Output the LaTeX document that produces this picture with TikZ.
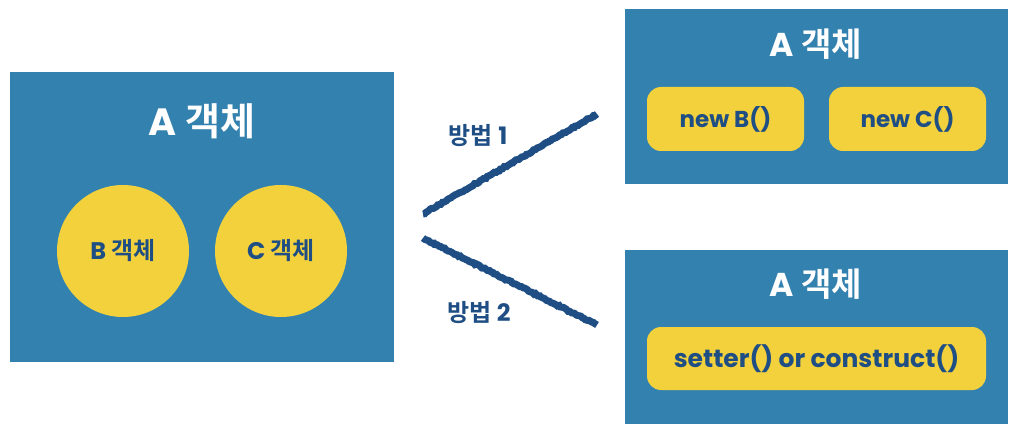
\documentclass[tikz,border=0pt]{standalone}
\usepackage{fontspec}
\setmainfont{Noto Sans CJK KR Bold}
\newfontfamily\lat{Poppins}
\usepackage{tikz}
\usetikzlibrary{positioning, decorations.pathmorphing}
\definecolor{objblue}{RGB}{51,129,175}
\definecolor{objyellow}{RGB}{242,209,60}
\definecolor{inkblue}{RGB}{30,78,132}
\newcommand{\ltn}[1]{{\lat\bfseries #1}}

\tikzset{
  obj/.style={fill=objblue, inner sep=0pt},
  objtitle/.style={text=white, font=\fontsize{38}{42}\selectfont},
  member/.style={circle, fill=objyellow, minimum size=132pt, text=inkblue, font=\fontsize{24}{28}\selectfont},
  call/.style={rounded corners=14pt, fill=objyellow, minimum height=64pt, text=inkblue, font=\fontsize{23}{26}\selectfont},
  way/.style={text=inkblue, font=\fontsize{24}{28}\selectfont},
  chalk/.style={draw=inkblue, line width=7pt, decorate, decoration={random steps, segment length=2pt, amplitude=0.7pt}}
}

\begin{document}
\begin{tikzpicture}[x=1pt, y=-1pt]
\useasboundingbox (0,0) rectangle (1016,438);

\node[obj, minimum width=384pt, minimum height=290pt] (a) at (202,217) {};
\node[objtitle] (atitle) at (202,121) {\ltn{A} 객체};
\node[member] (b) at (123,251) {\ltn{B} 객체};
\node[member] (c) at (281,251) {\ltn{C} 객체};

\node[obj, minimum width=383pt, minimum height=175pt] (a1) at (816.5,96.5) {};
\node[objtitle, font=\fontsize{33}{36}\selectfont] (a1title) at (816,44) {\ltn{A} 객체};
\node[call, minimum width=157pt] (newb) at (725.5,119) {\ltn{new B()}};
\node[call, minimum width=157pt] (newc) at (907.5,119) {\ltn{new C()}};

\node[obj, minimum width=383pt, minimum height=174pt] (a2) at (816.5,337) {};
\node[objtitle, font=\fontsize{33}{36}\selectfont] (a2title) at (816,284) {\ltn{A} 객체};
\node[call, minimum width=339pt, minimum height=63pt, font=\fontsize{25}{28}\selectfont] (inject) at (816.5,358.5) {\ltn{setter() or construct()}};

\coordinate (w1s) at (423,214);
\coordinate (w1e) at (597,114);
\coordinate (w2s) at (423,238);
\coordinate (w2e) at (597,325);
\draw[chalk] (w1s) -- (w1e);
\draw[chalk] (w2s) -- (w2e);
\node[way] (way1) at (478,136) {방법 \ltn{1}};
\node[way] (way2) at (479,313) {방법 \ltn{2}};
\end{tikzpicture}
\end{document}
